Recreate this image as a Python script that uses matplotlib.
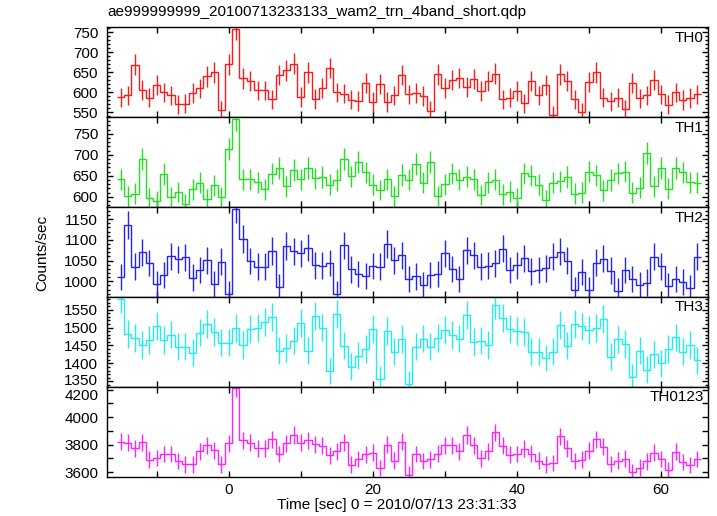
import numpy as np
import matplotlib
matplotlib.use("Agg")
from matplotlib import pyplot as plt
from matplotlib import transforms
from matplotlib.ticker import MultipleLocator

plt.rcParams["font.family"] = ["Liberation Sans", "DejaVu Sans"]

title = "ae999999999_20100713233133_wam2_trn_4band_short.qdp"

# 1 s bin centres
time = np.arange(-15, 66)

th0 = [587, 592, 668, 605, 586, 618, 599, 592, 569, 571,
       598, 609, 639, 649, 555, 669, 757, 634, 628, 604,
       604, 582, 642, 654, 671, 588, 649, 583, 611, 660,
       599, 596, 581, 578, 622, 575, 621, 575, 592, 643,
       594, 598, 590, 553, 644, 610, 631, 636, 613, 633,
       603, 627, 646, 582, 586, 602, 572, 627, 592, 617,
       542, 644, 628, 582, 550, 625, 649, 586, 577, 586,
       557, 623, 584, 592, 630, 594, 568, 599, 580, 585,
       594]

th1 = [642, 601, 607, 691, 597, 589, 654, 599, 611, 582,
       618, 633, 594, 628, 599, 714, 785, 642, 642, 635,
       618, 655, 668, 625, 664, 642, 668, 644, 647, 629,
       640, 690, 649, 683, 658, 629, 616, 642, 601, 652,
       641, 678, 633, 683, 602, 630, 656, 641, 648, 642,
       604, 635, 641, 606, 612, 596, 656, 650, 629, 592,
       633, 637, 647, 607, 610, 660, 651, 615, 640, 656,
       660, 610, 621, 704, 625, 668, 619, 669, 658, 634,
       633]

th2 = [1011, 1136, 1035, 1070, 1044, 993, 1015, 1060, 1053, 1058,
       1009, 1027, 1051, 994, 1047, 969, 1174, 1102, 1049, 1035,
       1035, 1073, 987, 1085, 1072, 1068, 1081, 1039, 1038, 1044,
       969, 1087, 1029, 1018, 1013, 1037, 1035, 1090, 1051, 1063,
       1006, 1012, 992, 1015, 1018, 1068, 1030, 1006, 1075, 1063,
       1035, 1038, 1043, 1079, 1027, 1039, 1056, 1024, 1027, 1031,
       1059, 1071, 1050, 980, 1023, 980, 1045, 1054, 1026, 976,
       1027, 1006, 990, 997, 1059, 1036, 989, 1006, 999, 984,
       1059]

th3 = [1581, 1482, 1471, 1451, 1465, 1504, 1465, 1480, 1446, 1447,
       1429, 1486, 1511, 1488, 1458, 1458, 1499, 1451, 1496, 1499,
       1516, 1530, 1435, 1443, 1463, 1513, 1435, 1533, 1500, 1379,
       1538, 1449, 1391, 1421, 1440, 1496, 1357, 1491, 1433, 1468,
       1343, 1446, 1469, 1446, 1471, 1493, 1479, 1469, 1535, 1460,
       1463, 1451, 1563, 1527, 1496, 1491, 1488, 1433, 1433, 1415,
       1432, 1507, 1449, 1511, 1503, 1493, 1499, 1525, 1419, 1467,
       1454, 1362, 1435, 1382, 1426, 1400, 1440, 1473, 1433, 1451,
       1409]

th0123 = [3821, 3814, 3775, 3819, 3692, 3704, 3733, 3733, 3682, 3658,
          3658, 3753, 3797, 3760, 3658, 3811, 4210, 3831, 3814, 3775,
          3775, 3840, 3733, 3811, 3870, 3814, 3831, 3802, 3794, 3724,
          3753, 3819, 3656, 3697, 3731, 3741, 3631, 3799, 3685, 3823,
          3583, 3733, 3682, 3695, 3736, 3797, 3797, 3753, 3870, 3797,
          3702, 3753, 3891, 3794, 3726, 3733, 3770, 3736, 3685, 3658,
          3668, 3860, 3775, 3682, 3690, 3755, 3840, 3785, 3661, 3685,
          3699, 3602, 3634, 3680, 3743, 3697, 3617, 3748, 3675, 3653,
          3697]

names = ["TH0", "TH1", "TH2", "TH3", "TH0123"]
series = [th0, th1, th2, th3, th0123]
colors = ["#ff1a1a", "#22e022", "#2424ee", "#22eeee", "#ff22ff"]
ylims = [(538, 762.5), (576, 790.5), (963, 1179.6), (1335, 1586.3), (3569, 4222)]
yticks = [(50, 10), (50, 10), (50, 10), (50, 10), (200, 100)]

fig = plt.figure(figsize=(7.17, 5.16), dpi=100)
left, right = 106.5 / 717, 708 / 717
top, bottom = 1 - 27 / 516, 1 - 476.5 / 516
h = (top - bottom) / 5

edges = np.append(time - 0.5, time[-1] + 0.5)

axes = []
for i, (name, rate, c) in enumerate(zip(names, series, colors)):
    ax = fig.add_axes([left, top - (i + 1) * h, right - left, h])
    axes.append(ax)
    rate = np.asarray(rate, dtype=float)
    err = np.sqrt(rate)  # Poisson error for 1 s bins
    ax.stairs(rate, edges, color=c, lw=1.0, baseline=None)
    ax.errorbar(time, rate, yerr=err, fmt="none", ecolor=c, elinewidth=1.0)

    ax.set_xlim(-16.95, 66.5)
    ax.set_ylim(*ylims[i])
    major, minor = yticks[i]
    ax.yaxis.set_major_locator(MultipleLocator(major))
    ax.yaxis.set_minor_locator(MultipleLocator(minor))
    ax.xaxis.set_major_locator(MultipleLocator(20))
    ax.xaxis.set_minor_locator(MultipleLocator(10))

    ax.tick_params(which="both", direction="in", top=True, right=True,
                   labelsize=11, width=1)
    ax.tick_params(axis="y", which="major", length=4.5, pad=6)
    if name == "TH0123":
        ax.tick_params(axis="y", which="minor", length=4.5)
    else:
        ax.tick_params(axis="y", which="minor", length=2.4)
    ax.tick_params(axis="x", which="both", length=4, pad=5)
    if i < 4:
        ax.tick_params(labelbottom=False)
    for s in ax.spines.values():
        s.set_linewidth(1.0)

    ax.text(0.993, 0.88, name, transform=ax.transAxes, ha="right",
            va="center", fontsize=11)

fig.text(107 / 717, 1 - 12 / 516, title, ha="left", va="center", fontsize=11)
fig.text(42 / 717, 0.51, "Counts/sec", rotation=90, ha="center",
         va="center", fontsize=11)
fig.text(397 / 717, 1 - 505 / 516, "Time [sec] 0 = 2010/07/13 23:31:33",
         ha="center", va="center", fontsize=11)


def nudge(ax, value, dy_px):
    """Shift one y tick label vertically by dy_px pixels."""
    off = transforms.ScaledTranslation(0, dy_px / 100, fig.dpi_scale_trans)
    for tick in ax.yaxis.get_major_ticks():
        if abs(tick.get_loc() - value) < 1:
            tick.label1.set_transform(tick.label1.get_transform() + off)


# keep 1350 (TH3) and 4200 (TH0123) labels apart at the panel seam
fig.canvas.draw()
nudge(axes[3], 1350, 2)
nudge(axes[4], 4200, -5)

plt.savefig("out.png", dpi=100)
